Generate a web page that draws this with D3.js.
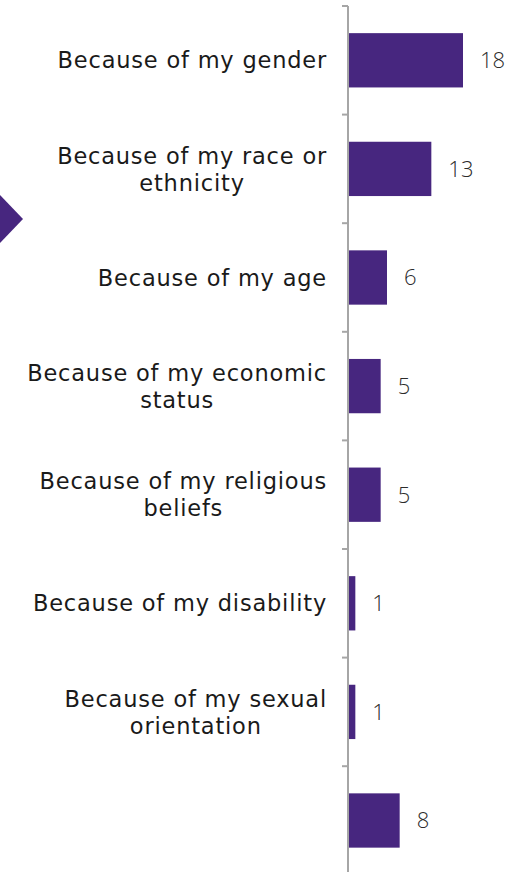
<!DOCTYPE html>
<html>
<head>
<meta charset="utf-8">
<script src="https://cdn.jsdelivr.net/npm/d3@7"></script>
<style>
  html, body { margin: 0; padding: 0; background: #ffffff; }
  svg { display: block; }
</style>
</head>
<body>
<svg id="chart" width="523" height="872"></svg>
<script>
// Reasons respondents gave, and the share (%) citing each
const categories = [
  "Because of my gender",
  "Because of my race or ethnicity",
  "Because of my age",
  "Because of my economic status",
  "Because of my religious beliefs",
  "Because of my disability",
  "Because of my sexual orientation",
  ""
];
const values = [18, 13, 6, 5, 5, 1, 1, 8];

const W = 523, H = 872;
const purple = "#47267f";
const axisColor = "#a6a6a6";
const labelFont = "'DejaVu Sans', 'Open Sans', sans-serif";
const valueFont = "'Open Sans', 'Noto Sans', sans-serif";

const svg = d3.select("#chart");

// Band per category, bars fill the middle half of each band
const band = d3.scaleBand()
  .domain(categories)
  .range([6, 6 + 108.6 * categories.length])
  .padding(0);

const x = d3.scaleLinear()
  .domain([0, 18])
  .range([349, 463]);

const barPad = 0.25;
const barH = band.bandwidth() * (1 - 2 * barPad);

// Decorative marker on the left edge
svg.append("path")
  .attr("d", "M0,195 L23,219 L0,243 Z")
  .attr("fill", purple);

// Bars
svg.append("g")
  .selectAll("rect")
  .data(values)
  .join("rect")
  .attr("x", x(0))
  .attr("y", (d, i) => band(categories[i]) + band.bandwidth() * barPad)
  .attr("width", d => x(d) - x(0))
  .attr("height", barH)
  .attr("fill", purple);

// Vertical axis with ticks at band boundaries
const axisG = svg.append("g").attr("stroke", axisColor).attr("stroke-width", 2);
axisG.append("line")
  .attr("x1", 348).attr("x2", 348)
  .attr("y1", band.range()[0]).attr("y2", H + 5);
const boundaries = categories.map(c => band(c)).concat([band.range()[1]]);
axisG.selectAll("line.tick")
  .data(boundaries)
  .join("line")
  .attr("class", "tick")
  .attr("x1", 342).attr("x2", 348)
  .attr("y1", d => d).attr("y2", d => d);

// Value labels
svg.append("g")
  .selectAll("text")
  .data(values)
  .join("text")
  .attr("x", d => x(d) + 17)
  .attr("y", (d, i) => band(categories[i]) + band.bandwidth() / 2)
  .attr("dy", "0.36em")
  .attr("font-family", valueFont)
  .attr("font-weight", 300)
  .attr("font-size", 22)
  .attr("fill", "#2b2b2b")
  .text(d => d);

// Category labels: wrapped, lines centred, block right-aligned to the axis
const labelRight = 327;
const maxW = 310;
const lineH = 27;
const fontSize = 22.5;
const tracking = 0.8;

const measurer = svg.append("text")
  .attr("font-family", labelFont)
  .attr("font-size", fontSize)
  .attr("letter-spacing", tracking)
  .attr("visibility", "hidden");
function textWidth(s) {
  measurer.text(s);
  return measurer.node().getComputedTextLength();
}
function wrap(s) {
  const words = s.split(" ").filter(w => w.length);
  const lines = [];
  let cur = "";
  words.forEach(w => {
    const next = cur ? cur + " " + w : w;
    if (cur && textWidth(next) > maxW) { lines.push(cur); cur = w; }
    else cur = next;
  });
  if (cur) lines.push(cur);
  return lines;
}

const labelG = svg.append("g")
  .attr("font-family", labelFont)
  .attr("font-size", fontSize)
  .attr("letter-spacing", tracking)
  .attr("fill", "#1a1a1a");

categories.forEach(c => {
  const lines = wrap(c);
  if (!lines.length) return;
  const blockW = d3.max(lines, l => textWidth(l));
  const cx = labelRight - blockW / 2;
  const cy = band(c) + band.bandwidth() / 2;
  const t = labelG.append("text")
    .attr("text-anchor", "middle");
  lines.forEach((l, k) => {
    t.append("tspan")
      .attr("x", cx)
      .attr("y", cy + (k - (lines.length - 1) / 2) * lineH)
      .attr("dy", "0.36em")
      .text(l);
  });
});
measurer.remove();
</script>
</body>
</html>
